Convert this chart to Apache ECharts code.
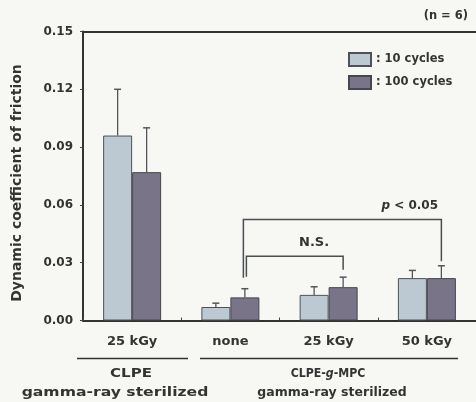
<!DOCTYPE html>
<html>
<head>
<meta charset="utf-8">
<script src="https://cdn.jsdelivr.net/npm/echarts@6/dist/echarts.min.js"></script>
<style>
  html, body { margin: 0; padding: 0; background: #f7f7f4; }
  #chart { width: 476px; height: 402px; }
</style>
</head>
<body>
<div id="chart"></div>
<script>
// Sample groups along the x axis
const categories = ['25 kGy', 'none', '25 kGy', '50 kGy'];
const seriesNames = ['10 cycles', '100 cycles'];

// Mean dynamic coefficient of friction and standard deviation (n = 6)
const cycles10 = [0.096, 0.007, 0.0133, 0.022];
const cycles10Sd = [0.024, 0.002, 0.0042, 0.004];
const cycles100 = [0.077, 0.012, 0.0173, 0.022];
const cycles100Sd = [0.023, 0.0045, 0.0052, 0.0064];

// Significance brackets between the 100-cycle bars
const bracketFrom = [1, 1];
const bracketTo = [3, 2];
const bracketLeftEnd = [0.0222, 0.0227];
const bracketLevel = [0.0524, 0.0333];
const bracketRightEnd = [0.0307, 0.0263];
const bracketLabels = ['p < 0.05', 'N.S.'];

const FONT = '"DejaVu Sans", sans-serif';
const TEXT = '#333';
const BAR_W = 29;
const colors = ['#bcc8d2', '#7a7489'];
const sds = [cycles10Sd, cycles100Sd];
const means = [cycles10, cycles100];

const chart = echarts.init(document.getElementById('chart'), null, { renderer: 'canvas' });

function errorSeries(si) {
  return {
    type: 'custom',
    xAxisIndex: 0,
    z: 5,
    data: categories.map((c, i) => [i, means[si][i], sds[si][i]]),
    renderItem: function (params, api) {
      const off = (si === 0 ? -1 : 1) * BAR_W / 2;
      const base = api.coord([api.value(0), api.value(1)]);
      const top = api.coord([api.value(0), api.value(1) + api.value(2)]);
      const x = base[0] + off;
      return {
        type: 'group',
        children: [
          { type: 'line', shape: { x1: x, y1: base[1], x2: x, y2: top[1] },
            style: { stroke: '#51555c', lineWidth: 1.3 } },
          { type: 'line', shape: { x1: x - 3.5, y1: top[1], x2: x + 3.5, y2: top[1] },
            style: { stroke: '#51555c', lineWidth: 1.5 } }
        ]
      };
    }
  };
}

const bracketSeries = {
  type: 'custom',
  xAxisIndex: 0,
  z: 6,
  data: bracketFrom.map((f, i) => [f, bracketTo[i], bracketLeftEnd[i], bracketLevel[i], bracketRightEnd[i]]),
  renderItem: function (params, api) {
    const i = params.dataIndex;
    const nudge = i === 0 ? -1.5 : 1.5;
    const off = BAR_W / 2;
    const l = api.coord([api.value(0), api.value(2)]);
    const lv = api.coord([api.value(0), api.value(3)]);
    const r = api.coord([api.value(1), api.value(4)]);
    const x1 = l[0] + off + nudge;
    const x2 = r[0] + off;
    const y = lv[1];
    const frac = i === 0 ? 0.84 : 0.70;
    const isP = bracketLabels[i].indexOf('p') === 0;
    return {
      type: 'group',
      children: [
        { type: 'polyline',
          shape: { points: [[x1, l[1]], [x1, y], [x2, y], [x2, r[1]]] },
          style: { stroke: '#4a4d52', lineWidth: 1.5, fill: null } },
        { type: 'text',
          x: x1 + (x2 - x1) * frac, y: y - 13.5,
          style: {
            text: isP ? '{i|p} < 0.05' : bracketLabels[i],
            align: 'center', verticalAlign: 'middle',
            fill: TEXT, font: 'bold ' + (isP ? 12 : 13) + 'px ' + FONT,
            rich: { i: { fontStyle: 'italic', fontWeight: 'bold', fontSize: 12, fontFamily: FONT, fill: TEXT } }
          } }
      ]
    };
  }
};

const option = {
  backgroundColor: '#f7f7f4',
  animation: false,
  grid: { left: 83, right: -1, top: 31.5, bottom: 81.5, containLabel: false },
  legend: {
    data: seriesNames,
    orient: 'vertical',
    left: 343, top: 47,
    itemWidth: 22, itemHeight: 13, itemGap: 8,
    icon: 'rect',
    formatter: ': {name}',
    textStyle: { fontFamily: FONT, fontWeight: 'bold', fontSize: 11.5, color: TEXT }
  },
  xAxis: [
    {
      type: 'category', data: categories, position: 'bottom',
      axisLine: { lineStyle: { color: '#333', width: 2 } },
      axisTick: { show: true, inside: true, length: 3, lineStyle: { color: '#444' } },
      axisLabel: { margin: 15, fontFamily: FONT, fontWeight: 'bold', fontSize: 13, color: TEXT }
    },
    {
      type: 'category', data: categories, position: 'top',
      axisLine: { lineStyle: { color: '#333', width: 2 } },
      axisTick: { show: false }, axisLabel: { show: false }
    }
  ],
  yAxis: {
    type: 'value', min: 0, max: 0.15, interval: 0.03,
    axisLine: { show: true, lineStyle: { color: '#333', width: 2 } },
    axisTick: { show: true, length: 3, lineStyle: { color: '#444' } },
    splitLine: { show: false },
    axisLabel: {
      margin: 10, fontFamily: FONT, fontWeight: 'bold', fontSize: 12, color: TEXT,
      formatter: v => v.toFixed(2)
    }
  },
  series: [
    {
      name: seriesNames[0], type: 'bar', data: cycles10, barWidth: BAR_W, barGap: '0%',
      itemStyle: { color: colors[0], borderColor: '#4e5258', borderWidth: 1 }
    },
    {
      name: seriesNames[1], type: 'bar', data: cycles100, barWidth: BAR_W, barGap: '0%',
      itemStyle: { color: colors[1], borderColor: '#45474e', borderWidth: 1 }
    },
    errorSeries(0),
    errorSeries(1),
    bracketSeries
  ],
  graphic: [
    // Y axis title
    { type: 'text', x: 17.5, y: 183, rotation: Math.PI / 2,
      style: { text: 'Dynamic coefficient of friction', font: 'bold 14px ' + FONT, fill: TEXT,
               align: 'center', verticalAlign: 'middle' } },
    { type: 'text', right: 8, top: 10,
      style: { text: '(n = 6)', font: 'bold 11.5px ' + FONT, fill: TEXT } },
    // Group underlines and group names below the axis
    { type: 'line', shape: { x1: 77, y1: 358.5, x2: 188, y2: 358.5 },
      style: { stroke: '#333', lineWidth: 1.5 } },
    { type: 'line', shape: { x1: 200, y1: 358.5, x2: 458, y2: 358.5 },
      style: { stroke: '#333', lineWidth: 1.5 } },
    { type: 'text', x: 131, y: 374, scaleX: 1.2,
      style: { text: 'CLPE', font: 'bold 12.5px ' + FONT, fill: TEXT, align: 'center', verticalAlign: 'middle' } },
    { type: 'text', x: 115, y: 393, scaleX: 1.25,
      style: { text: 'gamma-ray sterilized', font: 'bold 12.5px ' + FONT, fill: TEXT, align: 'center', verticalAlign: 'middle' } },
    { type: 'text', x: 328, y: 374, scaleX: 0.88,
      style: { text: 'CLPE-{i|g}-MPC', font: 'bold 12.5px ' + FONT, fill: TEXT, align: 'center', verticalAlign: 'middle',
               rich: { i: { fontStyle: 'italic', fontWeight: 'bold', fontSize: 12.5, fontFamily: FONT, fill: TEXT } } } },
    { type: 'text', x: 332, y: 393,
      style: { text: 'gamma-ray sterilized', font: 'bold 12.5px ' + FONT, fill: TEXT, align: 'center', verticalAlign: 'middle' } }
  ]
};

chart.setOption(option);
</script>
</body>
</html>
